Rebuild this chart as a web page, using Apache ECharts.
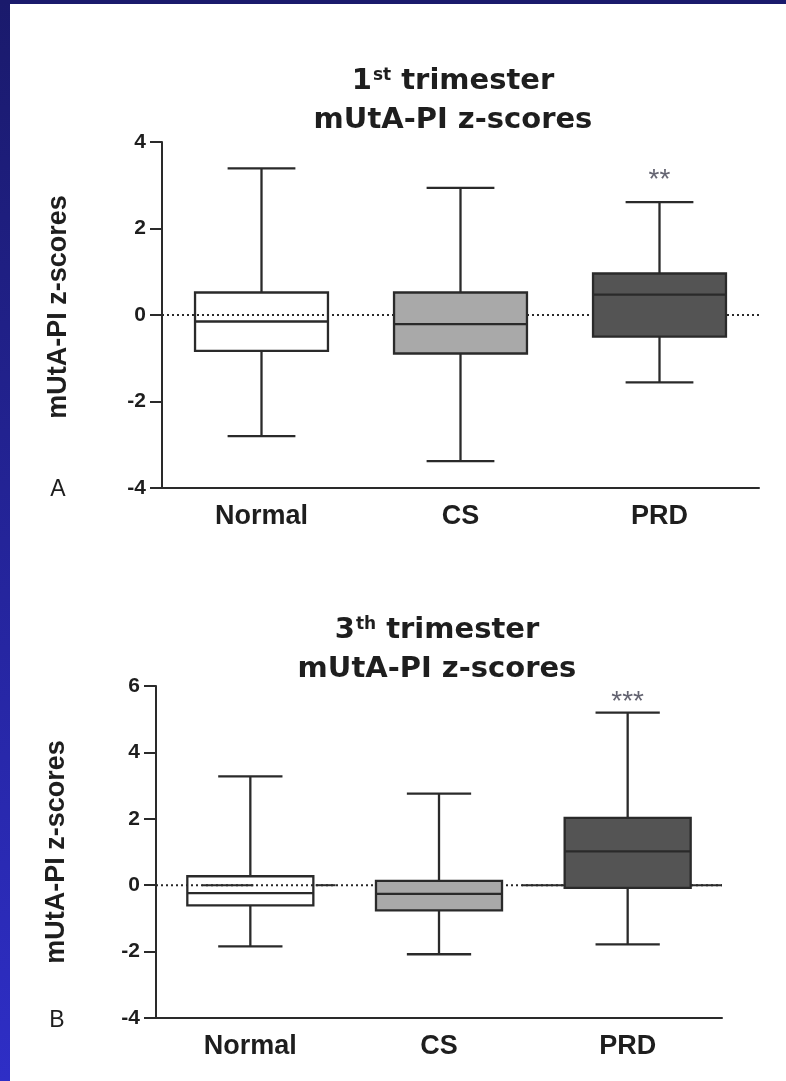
<!DOCTYPE html>
<html>
<head>
<meta charset="utf-8">
<script src="https://cdn.jsdelivr.net/npm/echarts@6/dist/echarts.min.js"></script>
<style>
html,body{margin:0;padding:0;background:#fff;}
#c{width:786px;height:1081px;}
</style>
</head>
<body>
<div id="c"></div>
<script>
// ---- data ----
var categories = ['Normal', 'CS', 'PRD'];
// [min, Q1, median, Q3, max]
var boxA = [
  [-2.80, -0.83, -0.15, 0.52, 3.39],
  [-3.38, -0.89, -0.21, 0.52, 2.94],
  [-1.56, -0.50, 0.47, 0.96, 2.61]
];
var boxB = [
  [-1.84, -0.61, -0.24, 0.27, 3.28],
  [-2.08, -0.76, -0.26, 0.13, 2.76],
  [-1.78, -0.08, 1.02, 2.03, 5.20]
];
var sigA = [[2, 3.12, '**']];
var sigB = [[2, 5.50, '***']];
var yTicksA = [-4, -2, 0, 2, 4];
var yTicksB = [-4, -2, 0, 2, 4, 6];
// zero reference line pieces (x in category-band units, 0..3)
var zeroDottedA = [[0, 0], [3, 0]];
var zeroDottedB = [[0, 0], [3, 0]];
var zeroSolidB = [
  [[0.245, 0], [0.516, 0]],
  [[0.846, 0], [0.952, 0]],
  [[1.94, 0], [3, 0]]
];

// ---- styles ----
var fills = ['rgba(255,255,255,0)', '#a9a9a9', '#545454'];
var INK = '#2a2a2a';
var TXT = '#1e1e1e';

function toCustom(box) {
  return box.map(function (b, i) { return [i].concat(b); });
}

function renderBox(params, api) {
  var i = api.value(0);
  var p = function (v) { return api.coord([i, v]); };
  var band = api.size([1, 0])[0];
  var bw = band * 0.668, cw = bw * 0.51;
  var c = p(api.value(3));
  var x = c[0];
  var yMin = p(api.value(1))[1], yQ1 = p(api.value(2))[1], yMed = c[1],
      yQ3 = p(api.value(4))[1], yMax = p(api.value(5))[1];
  var ls = { stroke: INK, lineWidth: 2.3, fill: null };
  return {
    type: 'group',
    children: [
      { type: 'line', shape: { x1: x, y1: yQ3, x2: x, y2: yMax }, style: ls },
      { type: 'line', shape: { x1: x, y1: yQ1, x2: x, y2: yMin }, style: ls },
      { type: 'line', shape: { x1: x - cw / 2, y1: yMax, x2: x + cw / 2, y2: yMax }, style: ls },
      { type: 'line', shape: { x1: x - cw / 2, y1: yMin, x2: x + cw / 2, y2: yMin }, style: ls },
      { type: 'rect', shape: { x: x - bw / 2, y: yQ3, width: bw, height: yQ1 - yQ3 },
        style: { fill: fills[params.dataIndex], stroke: INK, lineWidth: 2.3 } },
      { type: 'line', shape: { x1: x - bw / 2, y1: yMed, x2: x + bw / 2, y2: yMed }, style: ls }
    ]
  };
}

function catAxis(gi) {
  return {
    type: 'category', gridIndex: gi, data: categories, boundaryGap: true,
    axisLine: { onZero: false, lineStyle: { color: INK, width: 2 } },
    axisTick: { alignWithLabel: true, length: 10, lineStyle: { color: INK, width: 2 } },
    axisLabel: { margin: 15, color: TXT, fontFamily: 'Liberation Sans', fontWeight: 'bold', fontSize: 27 },
    splitLine: { show: false }
  };
}
function hiddenX(gi) {
  return { type: 'value', gridIndex: gi, min: 0, max: 3, show: false,
           axisLine: { show: false, onZero: false }, splitLine: { show: false } };
}
function valAxis(gi, min, max, gap, namePad) {
  return {
    type: 'value', gridIndex: gi, min: min, max: max, interval: 2,
    name: 'mUtA-PI z-scores', nameLocation: 'middle', nameRotate: 90, nameGap: gap,
    nameTextStyle: { color: TXT, fontFamily: 'Liberation Sans', fontWeight: 'bold', fontSize: 27, padding: namePad },
    axisLine: { show: true, onZero: false, lineStyle: { color: INK, width: 2 } },
    axisTick: { show: true, length: 12, lineStyle: { color: INK, width: 2 } },
    axisLabel: { margin: 16, color: TXT, fontFamily: 'Liberation Sans', fontWeight: 'bold', fontSize: 21 },
    splitLine: { show: false }
  };
}
function zeroLine(xi, yi, data, solid) {
  return {
    type: 'line', xAxisIndex: xi, yAxisIndex: yi, data: data, symbol: 'none', silent: true, z: solid ? 1 : 0,
    lineStyle: solid ? { color: INK, width: 2, type: 'solid' }
                     : { color: '#2a2a2a', width: 2, type: [2, 3], cap: 'butt' },
    animation: false
  };
}
function sigSeries(xi, yi, data) {
  return {
    type: 'scatter', xAxisIndex: xi, yAxisIndex: yi, data: data, symbolSize: 1, z: 3,
    itemStyle: { color: 'rgba(0,0,0,0)' },
    label: { show: true, position: 'inside', formatter: function (p) { return p.data[2]; },
      color: '#3d3d4d', fontFamily: 'Liberation Sans', fontSize: 28 },
    animation: false
  };
}

function titleText(num, sup, cx, top) {
  return {
    type: 'text', x: cx, y: top,
    style: {
      text: '{n|' + num + '}{s|' + sup + '}{n| trimester}\n{n|mUtA-PI z-scores}',
      align: 'center', verticalAlign: 'top',
      rich: {
        n: { fontFamily: 'DejaVu Sans', fontWeight: 'bold', fontSize: 29, lineHeight: 39, fill: TXT, color: TXT },
        s: { fontFamily: 'DejaVu Sans', fontWeight: 'bold', fontSize: 17, lineHeight: 18, verticalAlign: 'top',
             padding: [5, 0, 0, 1], fill: TXT, color: TXT }
      }
    }
  };
}

var series = [
  zeroLine(2, 0, zeroDottedA, false),
  zeroLine(3, 1, zeroDottedB, false)
];
zeroSolidB.forEach(function (seg) { series.push(zeroLine(3, 1, seg, true)); });
series.push({
  type: 'custom', xAxisIndex: 0, yAxisIndex: 0, z: 2, renderItem: renderBox,
  data: toCustom(boxA), encode: { x: 0, y: [1, 2, 3, 4, 5] }, animation: false
});
series.push({
  type: 'custom', xAxisIndex: 1, yAxisIndex: 1, z: 2, renderItem: renderBox,
  data: toCustom(boxB), encode: { x: 0, y: [1, 2, 3, 4, 5] }, animation: false
});
series.push(sigSeries(0, 0, sigA));
series.push(sigSeries(1, 1, sigB));

var chart = echarts.init(document.getElementById('c'), null, { renderer: 'canvas' });
chart.setOption({
  backgroundColor: '#ffffff',
  animation: false,
  grid: [
    { left: 162, top: 142, width: 597, height: 346 },
    { left: 156, top: 686, width: 566, height: 332 }
  ],
  xAxis: [catAxis(0), catAxis(1), hiddenX(0), hiddenX(1)],
  yAxis: [valAxis(0, yTicksA[0], yTicksA[yTicksA.length - 1], 90, [0, 0, 0, 16]),
          valAxis(1, yTicksB[0], yTicksB[yTicksB.length - 1], 86, [0, 0, 0, 0])],
  series: series,
  graphic: [
    { type: 'rect', shape: { x: 0, y: 0, width: 10, height: 1081 }, silent: true,
      style: { fill: new echarts.graphic.LinearGradient(0, 0, 0, 1, [
        { offset: 0, color: '#1a1a6c' }, { offset: 1, color: '#2e2ec6' }]) } },
    { type: 'rect', shape: { x: 0, y: 0, width: 786, height: 4 }, silent: true, style: { fill: '#1a1a6c' } },
    titleText('1', 'st', 453, 62),
    titleText('3', 'th', 437, 611),
    { type: 'text', x: 58, y: 490, style: { text: 'A', align: 'center', verticalAlign: 'middle',
      fontFamily: 'Liberation Sans', fontSize: 23, fill: TXT } },
    { type: 'text', x: 57, y: 1021, style: { text: 'B', align: 'center', verticalAlign: 'middle',
      fontFamily: 'Liberation Sans', fontSize: 23, fill: TXT } }
  ]
});
</script>
</body>
</html>
